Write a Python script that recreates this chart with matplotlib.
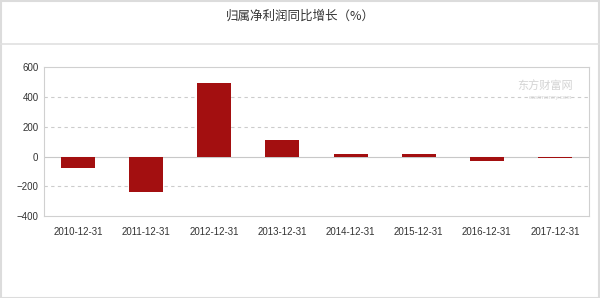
import matplotlib.pyplot as plt
import numpy as np
from matplotlib.patches import Rectangle
from matplotlib.lines import Line2D

# 报告期与归属净利润同比增长(%)
dates = ['2010-12-31', '2011-12-31', '2012-12-31', '2013-12-31',
         '2014-12-31', '2015-12-31', '2016-12-31', '2017-12-31']
growth = [-76, -238, 495, 108, 19, 16, -27, -10]
yticks = [-400, -200, 0, 200, 400, 600]

plt.rcParams['font.family'] = ['Liberation Sans', 'Noto Sans CJK SC', 'DejaVu Sans']

fig = plt.figure(figsize=(6, 2.98), dpi=100)
ax = fig.add_axes([44 / 600, 1 - 216 / 298, 545 / 600, 148.7 / 298])

x = np.arange(len(dates))
ax.bar(x, growth, width=0.5, color='#a30f10', zorder=3)

ax.set_xlim(-0.5, len(dates) - 0.5)
ax.set_ylim(-400, 600)
ax.set_yticks(yticks)
ax.set_xticks(x)
ax.set_xticklabels(dates)
ax.tick_params(length=0, labelsize=7, colors='#333333')
ax.tick_params(axis='x', pad=8)
ax.tick_params(axis='y', pad=4)

for v in [-200, 200, 400]:
    ax.axhline(v, color='#cccccc', lw=0.8, ls=(0, (3, 3)), zorder=1)
ax.axhline(0, color='#c8c8c8', lw=0.8, zorder=2)
for s in ax.spines.values():
    s.set_color('#d0d0d0')
    s.set_linewidth(0.8)

# 水印
ax.text(0.97, 0.88, '东方财富网', transform=ax.transAxes, ha='right', va='center',
        fontsize=8, color='#d4d4d4', family=['Noto Sans CJK SC', 'DejaVu Sans'])
ax.text(0.97, 0.80, 'eastmoney.com', transform=ax.transAxes, ha='right', va='center',
        fontsize=4.5, color='#d4d4d4')

# 标题与外框
fig.text(0.5, 1 - 16 / 298, '归属净利润同比增长（%）', ha='center', va='center',
         fontsize=9, color='#333333', family=['Noto Sans CJK SC', 'DejaVu Sans'])
fig.add_artist(Line2D([0, 1], [1 - 44 / 298, 1 - 44 / 298], color='#e0e0e0', lw=1.2,
                      transform=fig.transFigure))
fig.add_artist(Rectangle((0.5 / 600, 0.5 / 298), 598.5 / 600, 296.5 / 298, fill=False,
                         edgecolor='#dcdcdc', lw=1.5, transform=fig.transFigure))

plt.savefig('out.png', dpi=100)
